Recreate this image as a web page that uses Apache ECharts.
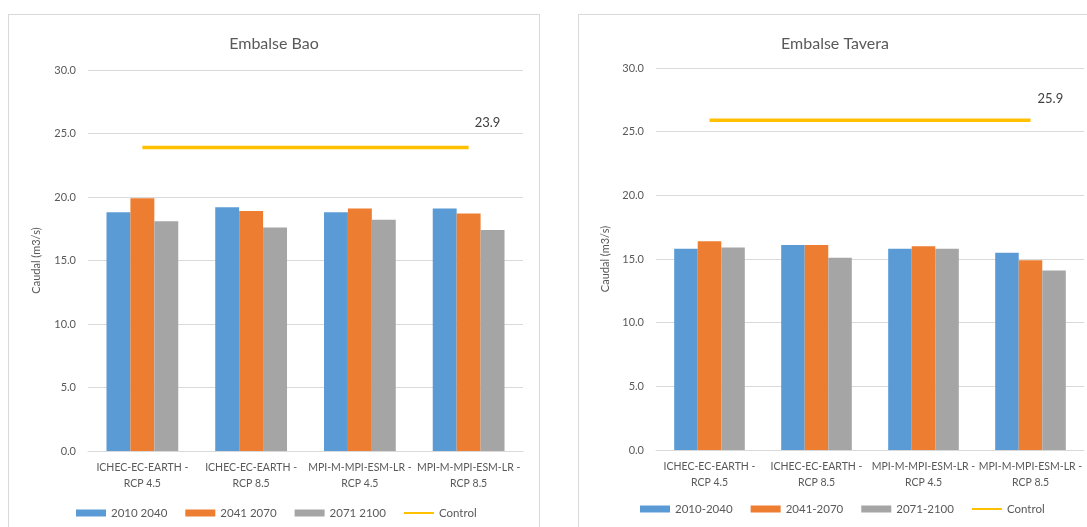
<!DOCTYPE html>
<html>
<head>
<meta charset="utf-8">
<script src="https://cdn.jsdelivr.net/npm/echarts@6/dist/echarts.min.js"></script>
<style>
    html,body{margin:0;padding:0;background:#fff;width:1087px;height:527px;overflow:hidden;position:relative;}
    .panel{position:absolute;border:1px solid #d9d9d9;background:#fff;}
    #bao{left:8px;top:14px;width:530px;height:530px;}
    #tavera{left:578px;top:14px;width:512px;height:530px;}
</style>
</head>
<body>
<div class="panel" id="bao"></div>
<div class="panel" id="tavera"></div>
<script>
// categorias (modelo - escenario)
let categories = [
    "ICHEC-EC-EARTH -\nRCP 4.5",
    "ICHEC-EC-EARTH -\nRCP 8.5",
    "MPI-M-MPI-ESM-LR -\nRCP 4.5",
    "MPI-M-MPI-ESM-LR -\nRCP 8.5"
];
let yTicks = [0, 5, 10, 15, 20, 25, 30];

// Embalse Bao
let baoNames = ["2010 2040", "2041 2070", "2071 2100"];
let bao2010 = [18.8, 19.2, 18.8, 19.1];
let bao2041 = [19.9, 18.9, 19.1, 18.7];
let bao2071 = [18.1, 17.6, 18.2, 17.4];
let baoControl = [23.9, 23.9, 23.9, 23.9];

// Embalse Tavera
let taveraNames = ["2010-2040", "2041-2070", "2071-2100"];
let tavera2010 = [15.8, 16.1, 15.8, 15.5];
let tavera2041 = [16.4, 16.1, 16.0, 14.9];
let tavera2071 = [15.9, 15.1, 15.8, 14.1];
let taveraControl = [25.9, 25.9, 25.9, 25.9];

let colors = ["#5b9bd5", "#ed7d31", "#a5a5a5", "#ffc000"];
let font = "Lato, 'Noto Sans', sans-serif";

function buildOption(cfg) {
    let bars = cfg.names.map(function (n, i) {
        return {
            name: n,
            type: "bar",
            barGap: "0%",
            barCategoryGap: "34%",
            itemStyle: {color: colors[i]},
            data: cfg.values[i]
        };
    });
    return {
        animation: false,
        color: colors,
        textStyle: {fontFamily: font},
        title: {
            text: cfg.title,
            left: "center",
            top: 16,
            textStyle: {fontSize: 16, fontWeight: "normal", color: "#595959", fontFamily: font}
        },
        legend: {
            left: cfg.legendLeft,
            top: cfg.legendTop,
            padding: 0,
            itemWidth: 30,
            itemHeight: 7,
            itemGap: 18,
            textStyle: {fontSize: 11.5, color: "#595959", fontFamily: font},
            data: cfg.names.map(function (n) { return {name: n, icon: "rect"}; })
                .concat([{name: "Control", icon: "path://M0,0L30,0L30,2L0,2Z"}])
        },
        grid: {left: cfg.gridLeft, top: cfg.gridTop, width: cfg.gridWidth, height: cfg.gridHeight},
        xAxis: {
            type: "category",
            data: categories,
            axisTick: {show: false},
            axisLine: {lineStyle: {color: "#d9d9d9"}},
            axisLabel: {color: "#595959", fontSize: 10.5, lineHeight: 16, margin: 9, interval: 0, fontFamily: font}
        },
        yAxis: {
            type: "value",
            min: yTicks[0],
            max: yTicks[yTicks.length - 1],
            interval: 5,
            name: "Caudal (m3/s)",
            nameLocation: "middle",
            nameGap: cfg.nameGap,
            nameTextStyle: {color: "#595959", fontSize: 11, fontFamily: font},
            axisLine: {show: false},
            axisTick: {show: false},
            splitLine: {lineStyle: {color: "#d9d9d9"}},
            axisLabel: {
                color: "#595959", fontSize: 11, margin: 12, fontFamily: font,
                formatter: function (v) { return v.toFixed(1); }
            }
        },
        series: bars.concat([{
            name: "Control",
            type: "line",
            symbol: "none",
            lineStyle: {color: colors[3], width: 3.5},
            itemStyle: {color: colors[3]},
            endLabel: {
                show: true,
                offset: cfg.labelOffset,
                fontSize: 13,
                color: "#404040",
                fontFamily: font,
                formatter: function (p) { return Number(p.value).toFixed(1); }
            },
            data: cfg.control
        }])
    };
}

let baoChart = echarts.init(document.getElementById("bao"));
baoChart.setOption(buildOption({
    title: "Embalse Bao",
    names: baoNames,
    values: [bao2010, bao2041, bao2071],
    control: baoControl,
    labelOffset: [-2, -25],
    gridLeft: 79, gridTop: 55, gridWidth: 435, gridHeight: 381,
    nameGap: 46,
    legendLeft: 67, legendTop: 492
}));

let taveraChart = echarts.init(document.getElementById("tavera"));
taveraChart.setOption(buildOption({
    title: "Embalse Tavera",
    names: taveraNames,
    values: [tavera2010, tavera2041, tavera2071],
    control: taveraControl,
    labelOffset: [-1, -21],
    gridLeft: 77, gridTop: 53, gridWidth: 428, gridHeight: 382,
    nameGap: 45,
    legendLeft: 61, legendTop: 488
}));
</script>
</body>
</html>
